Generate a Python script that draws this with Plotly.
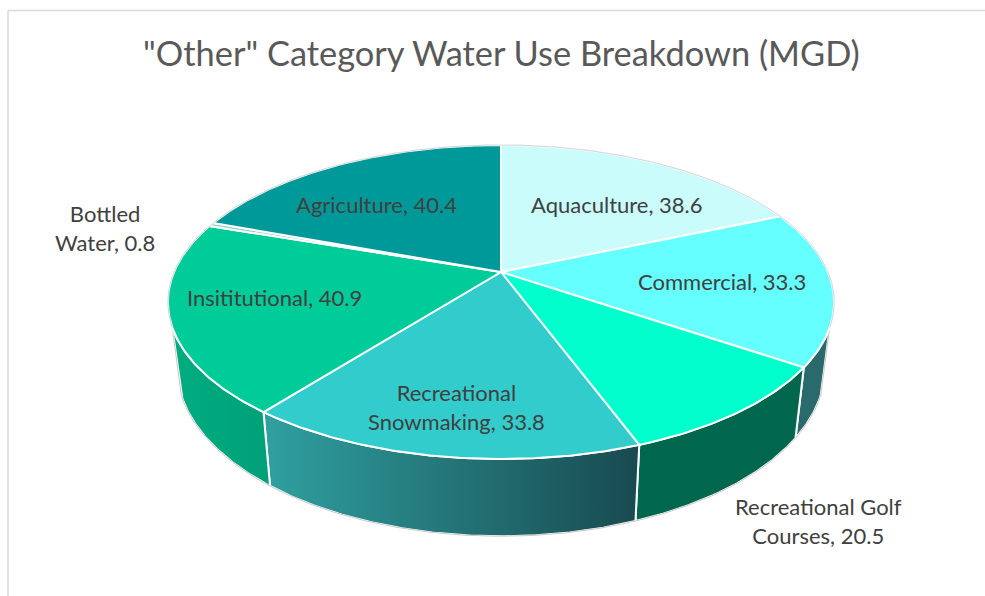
import numpy as np
import plotly.graph_objects as go

# ---- data ----
categories = ["Aquaculture", "Commercial", "Recreational Golf Courses",
              "Recreational Snowmaking", "Insititutional", "Bottled Water", "Agriculture"]
values = [38.6, 33.3, 20.5, 33.8, 40.9, 0.8, 40.4]

top_colors = ["#C9FCFB", "#66FFFF", "#00FFCC", "#33CCCC", "#00CC99", "#99CCCC", "#009999"]
wall_left = ["#2B6A6C", "#2B6A6C", "#00674F", "#2FA0A0", "#00AC80", "#00AC80", "#00AC80"]
wall_right = ["#2B6A6C", "#2B6A6C", "#00674F", "#184A50", "#00A078", "#00A078", "#00A078"]

# label text lines and anchor (pixel space of the 985x596 canvas)
label_breaks = {"Recreational Golf Courses": "Recreational Golf<br>Courses",
                "Recreational Snowmaking": "Recreational<br>Snowmaking",
                "Bottled Water": "Bottled<br>Water"}
label_pos = [(617, 204), (722, 281), (818, 521), (456, 407), (274, 297), (105, 228), (376, 204)]

TITLE = '"Other" Category Water Use Breakdown (MGD)'

# ---- projection of the tilted disc ----
CX, K = 501.0, 0.191
TOP = dict(a=327.0, b=151.3, y0=272.0)
BOT = dict(a=318.0, b=162.0, y0=336.0)
VIS_R, VIS_L = 110.0, 250.0  # silhouette angles, wall is visible between them


def proj(theta_deg, d):
    t = np.radians(theta_deg)
    u, v = np.sin(t), np.cos(t)
    den = 1 + K * v
    return CX + d["a"] * u / den, d["y0"] - d["b"] * v / den


def arc(t0, t1, d):
    n = max(int(abs(t1 - t0) * 2), 2)
    return proj(np.linspace(t0, t1, n), d)


vals = np.array(values)
edges = np.concatenate([[0], np.cumsum(vals)]) / vals.sum() * 360

fig = go.Figure()
NOHOVER = dict(hoverinfo="skip", showlegend=False)

# walls
for i in range(len(vals)):
    t0, t1 = max(edges[i], VIS_R), min(edges[i + 1], VIS_L)
    if t1 <= t0:
        continue
    xt, yt = arc(t0, t1, TOP)
    xb, yb = arc(t1, t0, BOT)
    fig.add_trace(go.Scatter(
        x=np.r_[xt, xb, xt[0]], y=np.r_[yt, yb, yt[0]], mode="lines", fill="toself",
        line=dict(color="white", width=2),
        fillgradient=dict(type="horizontal",
                          colorscale=[[0, wall_left[i]], [1, wall_right[i]]]),
        **NOHOVER))

# outer rims: top disc over the back, then down one side, along the front, up the other
xr, yr = arc(VIS_L, 360 + VIS_R, TOP)
xb, yb = arc(VIS_R, VIS_L, BOT)
fig.add_trace(go.Scatter(x=np.r_[xr, xb, xr[0]], y=np.r_[yr, yb, yr[0]], mode="lines",
                         line=dict(color="#C8C8C8", width=1), **NOHOVER))

# top faces
for i in range(len(vals)):
    xa, ya = arc(edges[i], edges[i + 1], TOP)
    xc, yc = CX, TOP["y0"]
    fig.add_trace(go.Scatter(
        x=np.r_[xc, xa, xc], y=np.r_[yc, ya, yc], mode="lines", fill="toself",
        fillcolor=top_colors[i], line=dict(color="white", width=2),
        name=categories[i], **NOHOVER))

# thin rim over the back of the top disc
fig.add_trace(go.Scatter(x=xr, y=yr, mode="lines",
                         line=dict(color="#C8C8C8", width=0.8), **NOHOVER))

annotations = []
for name, val, (lx, ly) in zip(categories, values, label_pos):
    annotations.append(dict(
        x=lx, y=ly, xref="x", yref="y", showarrow=False, align="center",
        text=f"{label_breaks.get(name, name)}, {val}",
        font=dict(family="Lato, Carlito, sans-serif", size=22, color="#404040")))
annotations.append(dict(
    x=501, y=52.5, xref="x", yref="y", showarrow=False, text=TITLE,
    font=dict(family="Lato, Carlito, sans-serif", size=34.4, color="#595959")))

fig.update_layout(
    width=985, height=596, autosize=False,
    margin=dict(l=0, r=0, t=0, b=0),
    paper_bgcolor="white", plot_bgcolor="white",
    xaxis=dict(range=[0, 985], visible=False, fixedrange=True),
    yaxis=dict(range=[596, 0], visible=False, fixedrange=True),
    annotations=annotations,
    shapes=[dict(type="line", xref="x", yref="y", x0=8, y0=10.5, x1=985, y1=10.5,
                 line=dict(color="#D9D9D9", width=1.5)),
            dict(type="line", xref="x", yref="y", x0=8, y0=10.5, x1=8, y1=596,
                 line=dict(color="#D9D9D9", width=1.5))],
)
fig.write_html("out.html", config=dict(displayModeBar=False),
               post_script="document.body.style.margin='0';document.documentElement.style.overflow='hidden';")
